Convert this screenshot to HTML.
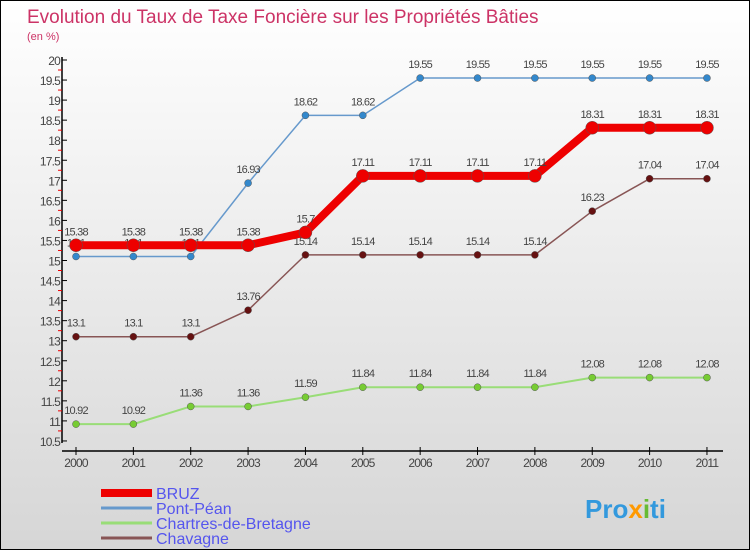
<!DOCTYPE html>
<html><head><meta charset="utf-8"><style>
body{margin:0}
#c{width:750px;height:550px;position:relative;box-sizing:border-box;border:1px solid #000;background:linear-gradient(#ffffff,#d6d6d6);font-family:"Liberation Sans",sans-serif;overflow:hidden}
svg{position:absolute;left:0;top:0}
</style></head><body>
<div id="c">
<svg id="s" width="750" height="550">
<text x="26" y="22" font-size="19" fill="#cc3366">Evolution du Taux de Taxe Foncière sur les Propriétés Bâties</text>
<text x="26" y="39" font-size="11" fill="#cc3366">(en %)</text>
<text x="584" y="517" font-size="26" font-weight="bold" fill="#3399dd">Pro<tspan fill="#ff9900">x</tspan><tspan fill="#66bb33">i</tspan>ti</text>
</svg>
</div>
<script>
const years=[2000,2001,2002,2003,2004,2005,2006,2007,2008,2009,2010,2011];
const bruz=[15.38,15.38,15.38,15.38,15.7,17.11,17.11,17.11,17.11,18.31,18.31,18.31];
const pontPean=[15.1,15.1,15.1,16.93,18.62,18.62,19.55,19.55,19.55,19.55,19.55,19.55];
const chartres=[10.92,10.92,11.36,11.36,11.59,11.84,11.84,11.84,11.84,12.08,12.08,12.08];
const chavagne=[13.1,13.1,13.1,13.76,15.14,15.14,15.14,15.14,15.14,16.23,17.04,17.04];
const yTicks=[10.5,11,11.5,12,12.5,13,13.5,14,14.5,15,15.5,16,16.5,17,17.5,18,18.5,19,19.5,20];
const seriesNames=["BRUZ","Pont-Péan","Chartres-de-Bretagne","Chavagne"];
const NS="http://www.w3.org/2000/svg";
const svg=document.getElementById('s');
const X=i=>75+i*57.36;
const Y=v=>59+(20-v)*40.1;
function el(t,a,p){const e=document.createElementNS(NS,t);for(const k in a)e.setAttribute(k,a[k]);(p||svg).appendChild(e);return e;}
function fmt(v){return String(v)}
let ax=el('line',{x1:61,y1:56,x2:61,y2:442,stroke:'#000','stroke-width':1.5});


let xa=el('line',{x1:61,y1:450,x2:722,y2:450,stroke:'#000','stroke-width':1.5});


yTicks.forEach(v=>{
 const y=Y(v);
 const tk=el('line',{x1:61,y1:y,x2:66,y2:y,stroke:'#000'});
 
 
 const m=el('line',{x1:57,y1:y+10,x2:61,y2:y+10,stroke:'#e00'});
 if(v===10.5)m.remove();
 const t=el('text',{x:59,y:y+5,'font-size':12,'text-anchor':'end',fill:'#444','letter-spacing':'-0.8'});
 t.textContent=fmt(v);
 
 
});
years.forEach((yr,i)=>{
 const x=X(i);
 const tk=el('line',{x1:x,y1:446,x2:x,y2:454,stroke:'#000'});
 
 
 const t=el('text',{x:x,y:466,'font-size':12,'text-anchor':'middle',fill:'#444','letter-spacing':'-0.8'});
 t.textContent=yr;
 
 
});
function series(data,color,dot,w,r,name){
 const g=el('g',{});
 
 
 const p=el('polyline',{points:data.map((v,i)=>X(i)+','+Y(v)).join(' '),fill:'none',stroke:color,'stroke-width':w,'stroke-linejoin':'round'},g);
 
 
 data.forEach((v,i)=>{
  const c=el('circle',{cx:X(i),cy:Y(v),r:r,fill:dot,stroke:'#555','stroke-width':0.5},g);
  
  
  const t=el('text',{x:X(i),y:Y(v)-10,'font-size':11,'text-anchor':'middle',fill:'#444','letter-spacing':'-0.8'},g);
  t.textContent=v;
  
  
 });
}
series(chartres,'#99dd77','#77cc33',2,3.5,'chartres');
series(chavagne,'#885555','#661111',1.5,3.5,'chavagne');
series(pontPean,'#6699cc','#3388cc',1.5,3.5,'pont-pean');
series(bruz,'#ee0000','#ee0000',8,6.5,'bruz');
const lc=['#ee0000','#6699cc','#99dd77','#885555'],lw=[8,3,3,3];
seriesNames.forEach((n,i)=>{
 const y=492+i*15;
 const l=el('line',{x1:100,y1:y,x2:151,y2:y,stroke:lc[i],'stroke-width':lw[i]});
 
 
 const t=el('text',{x:155,y:y+6,'font-size':16,fill:'#5555ee'});
 t.textContent=n;
 
 
});
</script>
</body></html>
